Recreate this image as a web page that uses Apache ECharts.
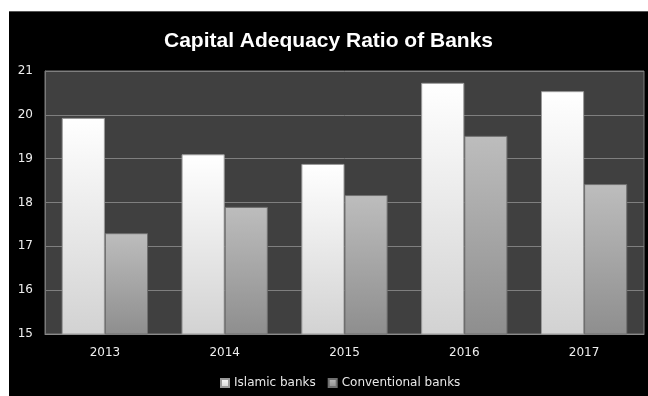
<!DOCTYPE html>
<html>
<head>
    <meta charset="UTF-8">
    <title>Capital Adequacy Ratio of Banks</title>
    <script src="https://cdn.jsdelivr.net/npm/echarts@6/dist/echarts.min.js"></script>
    <style>
        html, body { margin: 0; padding: 0; background: #fff; }
        #main { position: absolute; left: 9px; top: 11px; width: 639px; height: 385px; border-top: 1px solid #555; box-sizing: border-box; }
    </style>
</head>
<body>
<div id="main"></div>
<script type="text/javascript">
    // data
    var years = ['2013', '2014', '2015', '2016', '2017'];
    var islamic = [19.93, 19.1, 18.88, 20.73, 20.54];
    var conventional = [17.3, 17.9, 18.17, 19.52, 18.42];
    var seriesNames = ['Islamic banks', 'Conventional banks'];

    var myChart = echarts.init(document.getElementById('main'));

    function grad(top, bottom) {
        return new echarts.graphic.LinearGradient(0, 0, 0, 1, [
            {offset: 0, color: top},
            {offset: 1, color: bottom}
        ]);
    }

    var option = {
        backgroundColor: '#000',
        animation: false,
        title: {
            text: 'Capital Adequacy Ratio of Banks',
            left: 'center',
            top: 14,
            textStyle: {
                color: '#fff',
                fontSize: 21,
                fontWeight: 'bold',
                fontFamily: 'Liberation Sans'
            }
        },
        legend: {
            bottom: 2,
            left: 206,
            icon: 'rect',
            itemWidth: 8,
            itemHeight: 8,
            itemGap: 12,
            textStyle: {
                color: '#e8e8e8',
                fontSize: 12,
                fontFamily: 'DejaVu Sans'
            },
            data: seriesNames
        },
        grid: {
            left: 36,
            right: 4,
            top: 59,
            bottom: 62,
            show: true,
            backgroundColor: '#404040',
            borderColor: '#7a7a7a',
            borderWidth: 1
        },
        xAxis: {
            type: 'category',
            data: years,
            axisLine: {lineStyle: {color: '#8a8a8a'}},
            axisTick: {show: false},
            axisLabel: {
                color: '#eee',
                fontSize: 12,
                margin: 13,
                fontFamily: 'DejaVu Sans'
            }
        },
        yAxis: {
            type: 'value',
            min: 15,
            max: 21,
            interval: 1,
            axisLine: {show: true, lineStyle: {color: '#7a7a7a'}},
            axisTick: {show: false},
            splitLine: {lineStyle: {color: '#7f7f7f', width: 1}},
            axisLabel: {
                color: '#eee',
                fontSize: 12,
                margin: 12,
                fontFamily: 'DejaVu Sans'
            }
        },
        series: [
            {
                name: seriesNames[0],
                type: 'bar',
                barGap: 0,
                barCategoryGap: '28%',
                data: islamic,
                itemStyle: {
                    color: grad('#ffffff', '#d2d2d2'),
                    borderColor: '#9a9a9a',
                    borderWidth: 1
                }
            },
            {
                name: seriesNames[1],
                type: 'bar',
                data: conventional,
                itemStyle: {
                    color: grad('#bdbdbd', '#8e8e8e'),
                    borderColor: '#707070',
                    borderWidth: 1
                }
            }
        ]
    };
    myChart.setOption(option);
</script>
</body>
</html>
